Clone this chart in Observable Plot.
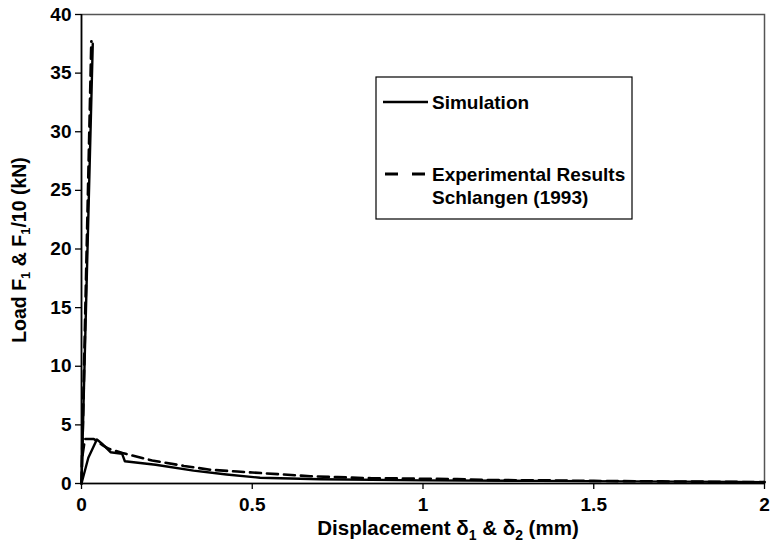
<!DOCTYPE html>
<html><head><meta charset="utf-8">
<script src="https://cdn.jsdelivr.net/npm/d3@7"></script>
<script src="https://cdn.jsdelivr.net/npm/@observablehq/plot@0.6"></script>
<style>body{margin:0;background:#fff} #chart{width:772px;height:560px}</style>
</head><body><div id="chart"></div>
<script>
// ---- data ----
const xTicks = [0, 0.5, 1, 1.5, 2];
const yTicks = [0, 5, 10, 15, 20, 25, 30, 35, 40];

// steep branch (F1 vs delta1)
const simSteepX = [0, 0.033];
const simSteepY = [0, 37.5];
const expSteepX = [0, 0.029];
const expSteepY = [0, 37.7];

// softening branch (F1/10 vs delta2)
const simX = [0, 0.02, 0.045, 0.06, 0.085, 0.119, 0.127, 0.217, 0.328, 0.425, 0.523, 0.7, 1.0, 1.34, 1.6, 1.91, 2.0];
const simY = [0, 2.2, 3.75, 3.4, 2.67, 2.53, 1.9, 1.6, 1.1, 0.77, 0.49, 0.36, 0.27, 0.22, 0.18, 0.14, 0.12];
const expX = [0.003, 0.01, 0.036, 0.06, 0.08, 0.12, 0.207, 0.3, 0.378, 0.456, 0.5, 0.59, 0.67, 0.75, 0.85, 0.94, 1.02, 1.1, 1.19, 1.28, 1.35, 1.5, 1.7, 1.91, 2.0];
const expY = [2.4, 3.8, 3.8, 3.3, 2.96, 2.6, 1.96, 1.5, 1.17, 1.02, 0.94, 0.77, 0.62, 0.54, 0.45, 0.43, 0.4, 0.37, 0.3, 0.28, 0.27, 0.22, 0.18, 0.14, 0.12];

const toRows = (xs, ys) => xs.map((x, i) => ({x, y: ys[i]}));
const simSteep = toRows(simSteepX, simSteepY);
const expSteep = toRows(expSteepX, expSteepY);
const sim = toRows(simX, simY);
const exp = toRows(expX, expY);

const FONT = "'Liberation Sans', Arial, Helvetica, sans-serif";
const dash = "11,6";

const plot = Plot.plot({
  width: 772, height: 560,
  marginLeft: 81, marginRight: 8, marginTop: 14, marginBottom: 77,
  x: {domain: [0, 2]},
  y: {domain: [0, 40]},
  style: {fontFamily: FONT, fontSize: "19px", fontWeight: "bold", background: "#fff", color: "#000"},
  marks: [
    Plot.frame({stroke: "#555", strokeWidth: 1.5}),
    Plot.axisX({ticks: xTicks, tickSize: 6, tickPadding: 8, tickFormat: d => String(d), label: null, strokeWidth: 1.3, fontSize: 19}),
    Plot.axisY({ticks: yTicks, tickSize: 6, tickPadding: 4, tickFormat: d => String(d), label: null, strokeWidth: 1.3, fontSize: 19}),
    Plot.ruleY([0], {stroke: "#000", strokeWidth: 1.6}),
    Plot.ruleX([0], {stroke: "#000", strokeWidth: 1.6}),
    Plot.line(expSteep, {x: "x", y: "y", stroke: "#000", strokeWidth: 2.8, strokeDasharray: dash}),
    Plot.line(simSteep, {x: "x", y: "y", stroke: "#000", strokeWidth: 2.4}),
    Plot.line(exp, {x: "x", y: "y", stroke: "#000", strokeWidth: 2.6, strokeDasharray: dash}),
    Plot.line(sim, {x: "x", y: "y", stroke: "#000", strokeWidth: 2.4})
  ]
});

document.getElementById("chart").appendChild(plot);
const svg = d3.select(plot);

// axis titles with subscripts
const xt = svg.append("text").attr("x", 448).attr("y", 535).attr("text-anchor", "middle")
  .attr("font-family", FONT).attr("font-size", 20.5).attr("font-weight", "bold").attr("fill", "#000");
xt.append("tspan").text("Displacement \u03B4");
xt.append("tspan").attr("font-size", 14).attr("dy", 5).text("1");
xt.append("tspan").attr("dy", -5).text(" & \u03B4");
xt.append("tspan").attr("font-size", 14).attr("dy", 5).text("2");
xt.append("tspan").attr("dy", -5).text(" (mm)");

const yt = svg.append("text").attr("transform", "translate(26,250) rotate(-90)").attr("text-anchor", "middle")
  .attr("font-family", FONT).attr("font-size", 19.5).attr("font-weight", "bold").attr("fill", "#000");
yt.append("tspan").text("Load F");
yt.append("tspan").attr("font-size", 13).attr("dy", 4).text("1");
yt.append("tspan").attr("dy", -4).text(" & F");
yt.append("tspan").attr("font-size", 13).attr("dy", 4).text("1");
yt.append("tspan").attr("dy", -4).text("/10 (kN)");

// legend box
const lg = svg.append("g").attr("font-family", FONT).attr("font-size", 19).attr("font-weight", "bold")
  .attr("fill", "#000").attr("text-anchor", "start");
lg.append("rect").attr("x", 376).attr("y", 77).attr("width", 256).attr("height", 142)
  .attr("fill", "#fff").attr("stroke", "#000").attr("stroke-width", 1.2);
lg.append("line").attr("x1", 383).attr("x2", 428).attr("y1", 102).attr("y2", 102)
  .attr("stroke", "#000").attr("stroke-width", 2.4);
lg.append("line").attr("x1", 385).attr("x2", 428).attr("y1", 174).attr("y2", 174)
  .attr("stroke", "#000").attr("stroke-width", 2.8).attr("stroke-dasharray", "13,14");
lg.append("text").attr("x", 432).attr("y", 109).text("Simulation");
lg.append("text").attr("x", 432).attr("y", 181).text("Experimental Results");
lg.append("text").attr("x", 432).attr("y", 204).text("Schlangen (1993)");
</script>
</body></html>
